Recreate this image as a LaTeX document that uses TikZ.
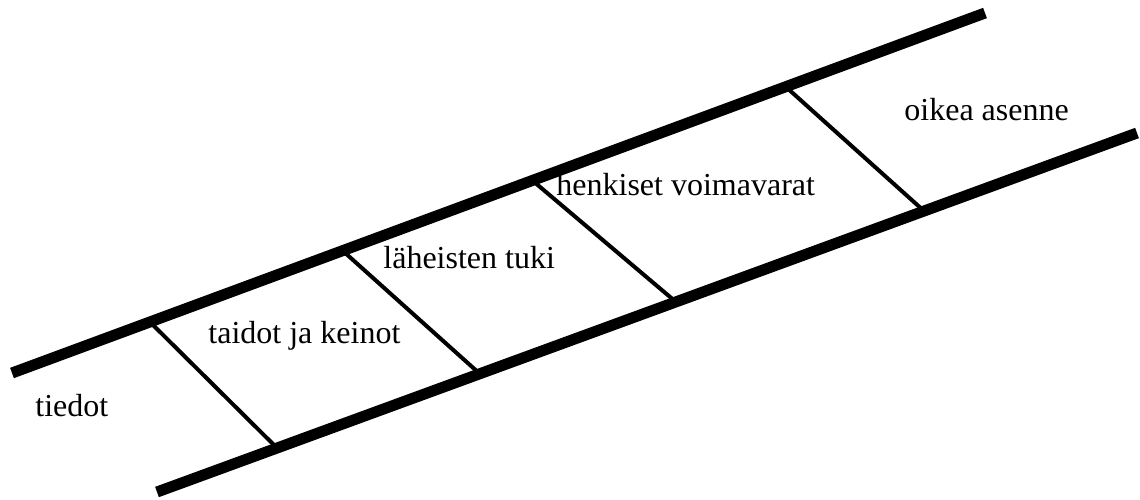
\documentclass[tikz,border=0pt]{standalone}
\usepackage{fontspec}
\setmainfont{Liberation Serif}
\begin{document}
\begin{tikzpicture}[x=0.5pt,y=-0.5pt,
  rail/.style={line width=5.5pt},
  rung/.style={line width=2pt},
  lbl/.style={anchor=base west,inner sep=0pt,font=\fontsize{16pt}{19pt}\selectfont}]
\useasboundingbox (0,0) rectangle (1140,499);
% rails of the ladder
\coordinate (ua) at (12,373);
\coordinate (ub) at (985,13);
\coordinate (la) at (157,492);
\coordinate (lb) at (1137,133);
\draw[rail] (ua) -- (ub);
\draw[rail] (la) -- (lb);
% rungs, each from upper rail to lower rail
\coordinate (r1t) at (150,322);
\coordinate (r1b) at (276,447);
\coordinate (r2t) at (343,251);
\coordinate (r2b) at (480,374);
\coordinate (r3t) at (533,181);
\coordinate (r3b) at (676,302);
\coordinate (r4t) at (786,87);
\coordinate (r4b) at (924,211);
\draw[rung] (r1t) -- (r1b);
\draw[rung] (r2t) -- (r2b);
\draw[rung] (r3t) -- (r3b);
\draw[rung] (r4t) -- (r4b);
% step labels
\node[lbl] (s1) at (35,416) {tiedot};
\node[lbl] (s2) at (208,343) {taidot ja keinot};
\node[lbl] (s3) at (383,268) {läheisten tuki};
\node[lbl] (s4) at (556,195) {henkiset voimavarat};
\node[lbl] (s5) at (904,120) {oikea asenne};
\end{tikzpicture}
\end{document}
